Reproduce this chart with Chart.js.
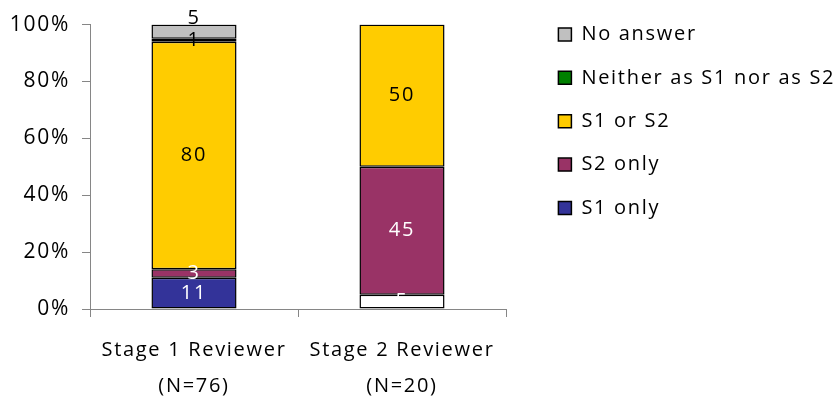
<!DOCTYPE html>
<html>
<head>
<meta charset="utf-8">
<script src="https://cdn.jsdelivr.net/npm/chart.js@4.4.1/dist/chart.umd.min.js"></script>
<style>
  html, body { margin: 0; padding: 0; background: #ffffff; }
  #wrap { width: 835px; height: 396px; position: relative; }
</style>
</head>
<body>
<div id="wrap"><canvas id="chart"></canvas></div>
<script>
// Reviewer groups (two-line axis labels)
const categories = [['Stage 1 Reviewer', '(N=76)'], ['Stage 2 Reviewer', '(N=20)']];

// Share of answers per group, in percent
const s1Only   = [11, 5];
const s2Only   = [3, 45];
const s1OrS2   = [80, 50];
const neither  = [1, 0];
const noAnswer = [5, 0];

// Value axis
const yMin = 0;
const yMax = 100;
const yStep = 20;

const FONT = "'Open Sans', 'DejaVu Sans', sans-serif";
const AXIS_GREY = '#868686';
const TEXT_SPACING = '1.7px';

Chart.defaults.font.family = FONT;
Chart.defaults.color = '#000000';

// Slightly airy lettering for every text on the canvas (set before measuring and drawing)
const letterSpacing = {
  id: 'letterSpacing',
  beforeInit(chart) { chart.ctx.letterSpacing = TEXT_SPACING; },
  beforeUpdate(chart) { chart.ctx.letterSpacing = TEXT_SPACING; },
  beforeDraw(chart) { chart.ctx.letterSpacing = TEXT_SPACING; }
};

// Writes each segment's value in the middle of its bar segment
const segmentLabels = {
  id: 'segmentLabels',
  afterDatasetsDraw(chart) {
    const ctx = chart.ctx;
    ctx.save();
    ctx.font = '20px ' + FONT;
    ctx.textAlign = 'center';
    ctx.textBaseline = 'middle';
    chart.data.datasets.forEach((ds, di) => {
      const meta = chart.getDatasetMeta(di);
      if (meta.hidden) return;
      meta.data.forEach((bar, i) => {
        const v = ds.data[i];
        if (!v) return;
        const p = bar.getProps(['x', 'y', 'base'], true);
        ctx.fillStyle = ds.labelColor;
        ctx.fillText(String(v), p.x, (p.y + p.base) / 2 + (ds.labelShift || 0));
      });
    });
    ctx.restore();
  }
};

const common = { borderColor: '#000000', borderWidth: 1.5, borderSkipped: false, xAxisID: 'x', yAxisID: 'y' };

new Chart(document.getElementById('chart'), {
  type: 'bar',
  data: {
    labels: categories,
    datasets: [
      Object.assign({ label: 'S1 only', data: s1Only, labelColor: '#ffffff',
        backgroundColor: (c) => (c.type === 'data' && c.dataIndex === 1) ? '#ffffff' : '#333399' }, common),
      Object.assign({ label: 'S2 only', data: s2Only, labelColor: '#ffffff', backgroundColor: '#993366' }, common),
      Object.assign({ label: 'S1 or S2', data: s1OrS2, labelColor: '#000000', backgroundColor: '#FFCC00' }, common),
      Object.assign({ label: 'Neither as S1 nor as S2', data: neither, labelColor: '#000000', backgroundColor: '#008000' }, common),
      Object.assign({ label: 'No answer', data: noAnswer, labelColor: '#000000', labelShift: -13, backgroundColor: '#C0C0C0' }, common)
    ]
  },
  options: {
    responsive: true,
    maintainAspectRatio: false,
    animation: false,
    layout: { padding: { top: 1, right: 0, bottom: 0, left: 0 } },
    datasets: { bar: { categoryPercentage: 0.409, barPercentage: 1 } },
    scales: {
      x: {
        type: 'category',
        stacked: true,
        offset: true,
        grid: { offset: true, drawOnChartArea: false, tickLength: 8, color: AXIS_GREY },
        border: { display: true, color: AXIS_GREY },
        ticks: { font: { size: 20, lineHeight: 1.8 }, padding: 15, color: '#000000', maxRotation: 0 },
        afterFit: (s) => { s.height = 87; }
      },
      y: {
        stacked: true,
        min: yMin,
        max: yMax,
        grid: { drawOnChartArea: false, tickLength: 8, color: AXIS_GREY },
        border: { display: true, color: AXIS_GREY },
        ticks: { stepSize: yStep, padding: 12, font: { size: 21 }, color: '#000000',
                 callback: (v) => v + '%' },
        afterFit: (s) => { s.width = 90; }
      },
      xTop: {
        type: 'linear', position: 'top', display: true,
        grid: { display: false }, border: { display: false }, ticks: { display: false },
        afterFit: (s) => { s.height = 23; }
      },
      yRight: {
        type: 'linear', position: 'right', display: true,
        grid: { display: false }, border: { display: false }, ticks: { display: false },
        afterFit: (s) => { s.width = 29; }
      }
    },
    plugins: {
      tooltip: { enabled: false },
      title: { display: false },
      legend: {
        position: 'right',
        align: 'start',
        reverse: true,
        maxWidth: 300,
        labels: { boxWidth: 13, boxHeight: 13, padding: 23.4, font: { size: 20 }, color: '#000000' }
      }
    }
  },
  plugins: [letterSpacing, segmentLabels]
});
</script>
</body>
</html>
